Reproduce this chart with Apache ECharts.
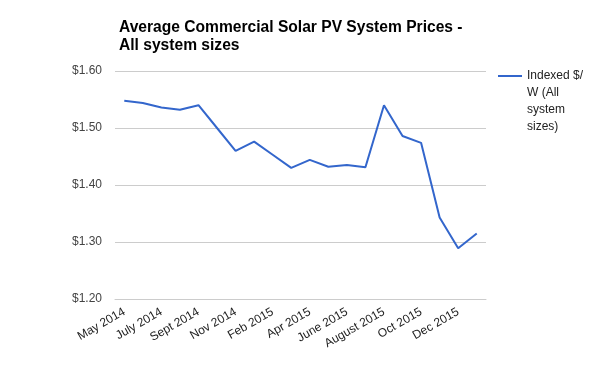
<!DOCTYPE html>
<html>
<head>
<meta charset="utf-8">
<script src="https://cdn.jsdelivr.net/npm/echarts@6/dist/echarts.min.js"></script>
<style>html,body{margin:0;padding:0;background:#fff}#c{width:600px;height:371px}</style>
</head>
<body>
<div id="c"></div>
<script>
const categories = ["May 2014","June 2014","July 2014","Aug 2014","Sept 2014","Oct 2014","Nov 2014","Dec 2014","Feb 2015","Mar 2015","Apr 2015","May 2015","June 2015","July 2015","August 2015","Sept 2015","Oct 2015","Nov 2015","Dec 2015","Jan 2016"];
const prices = [1.548,1.544,1.536,1.532,1.540,1.500,1.460,1.476,1.453,1.430,1.444,1.432,1.435,1.431,1.540,1.486,1.474,1.343,1.289,1.315];
const seriesName = "Indexed $/W (All system sizes)";
const titleText = "Average Commercial Solar PV System Prices -\nAll system sizes";
const yTicks = {min:1.2, max:1.6, interval:0.1};

const chart = echarts.init(document.getElementById('c'), null, {renderer:'canvas'});
const FONT = '"Liberation Sans", Arial, sans-serif';
// tall legend icon: a 2px bar near the top so it lines up with the first text line
const legendIcon = 'path://M0,0L0.01,0L0.01,0.01Z M0,7.5L24,7.5L24,9.5L0,9.5Z M23.99,67.99L24,67.99L24,68Z';
chart.setOption({
  animation:false,
  backgroundColor:'#fff',
  title:{
    text:titleText, left:119, top:19, padding:0,
    textStyle:{fontFamily:FONT, fontSize:15.6, fontWeight:'bold', color:'#000', lineHeight:18}
  },
  legend:{
    left:498, top:67.5, padding:0, orient:'vertical',
    icon:legendIcon, itemWidth:24, itemHeight:68, itemGap:5,
    itemStyle:{color:'#3366cc', borderWidth:0},
    formatter:function(){ return "Indexed $/\nW (All\nsystem\nsizes)"; },
    textStyle:{fontFamily:FONT, fontSize:12, color:'#222', lineHeight:17}
  },
  grid:{left:115, right:114, top:71, bottom:72, containLabel:false},
  xAxis:{
    type:'category', data:categories, boundaryGap:true,
    axisLine:{show:true, lineStyle:{color:'#ccc'}},
    axisTick:{show:false},
    axisLabel:{interval:1, rotate:30, margin:12, fontFamily:FONT, fontSize:12, color:'#222'}
  },
  yAxis:{
    type:'value', min:yTicks.min, max:yTicks.max, interval:yTicks.interval,
    axisLine:{show:false}, axisTick:{show:false},
    splitLine:{lineStyle:{color:'#ccc'}},
    axisLabel:{margin:13, fontFamily:FONT, fontSize:12, color:'#444', formatter:function(v){return '$'+v.toFixed(2);}}
  },
  series:[{
    name:seriesName, type:'line', data:prices, symbol:'none',
    lineStyle:{color:'#3366cc', width:2}, itemStyle:{color:'#3366cc'}
  }]
});
</script>
</body>
</html>
